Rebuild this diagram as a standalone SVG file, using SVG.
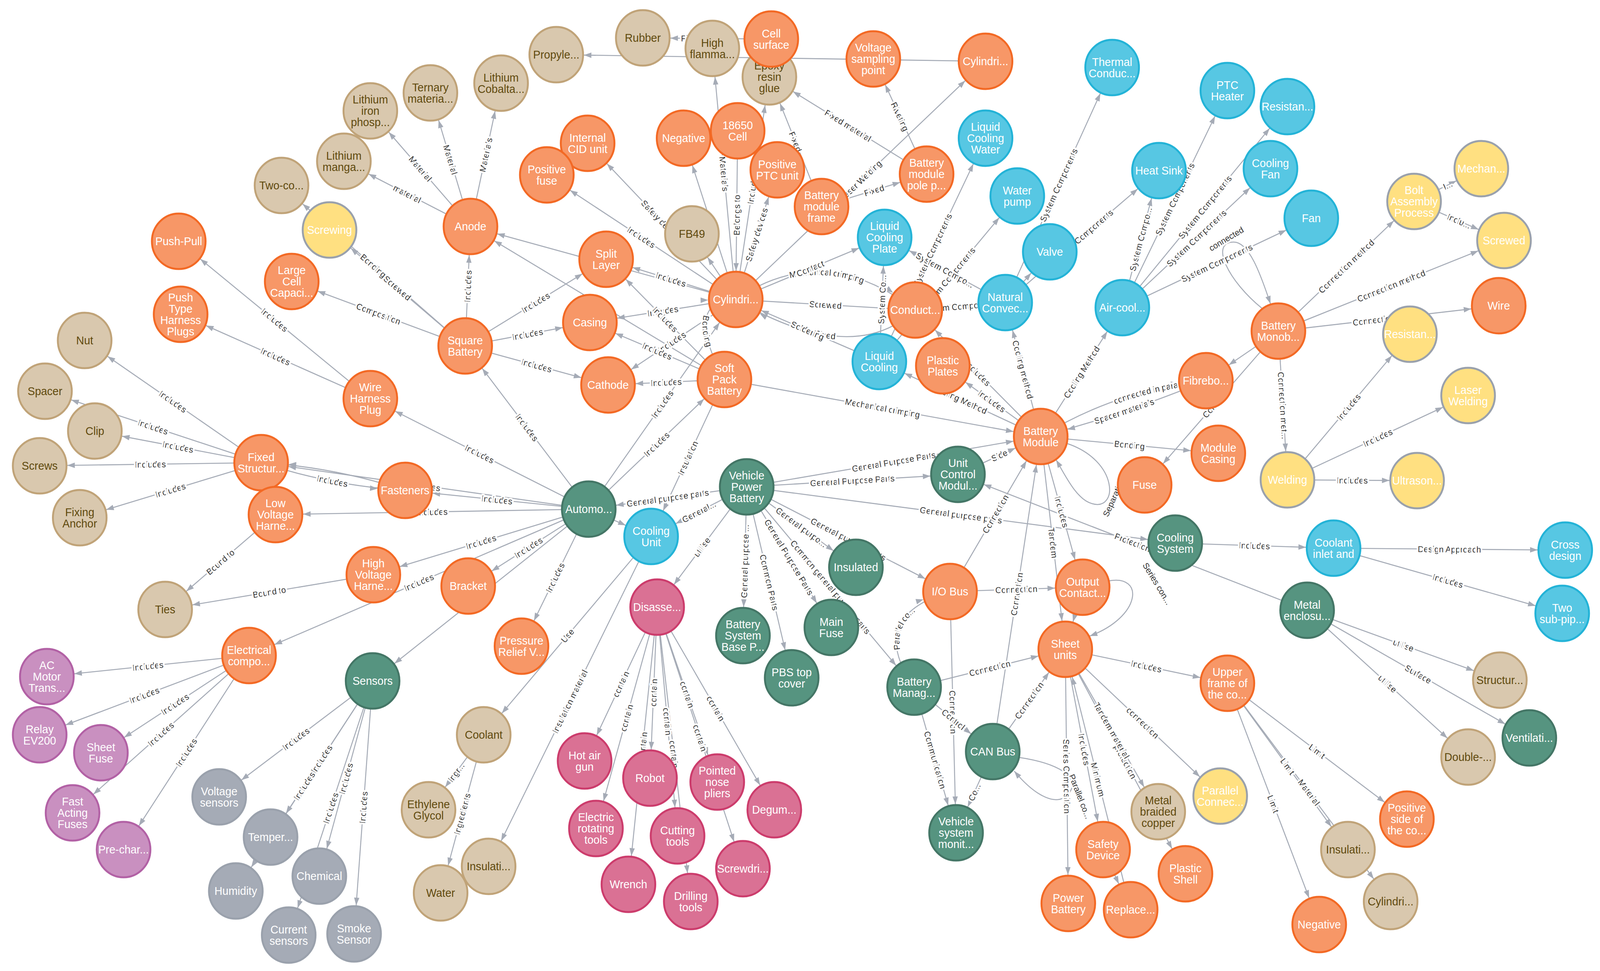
<svg xmlns="http://www.w3.org/2000/svg" width="4234" height="2487" viewBox="0 0 4234 2487">
<style>
.e{fill:none;stroke:#A5ABB6;stroke-width:2.6}
.l{font-family:"Liberation Sans",Arial,sans-serif;font-size:22px;fill:#333;dominant-baseline:central;text-anchor:middle;paint-order:stroke;stroke:#fff;stroke-width:9px;stroke-linejoin:round}
.n circle{stroke-width:5}
.o circle{fill:#F79767;stroke:#F36924}
.b circle{fill:#57C7E3;stroke:#23B3D7}
.g circle{fill:#569480;stroke:#447666}
.k circle{fill:#D9C8AE;stroke:#C0A378}
.p circle{fill:#DA7194;stroke:#CC3C6C}
.u circle{fill:#C990C0;stroke:#B261A5}
.y circle{fill:#FFE081;stroke:#9AA1AC}
.s circle{fill:#A5ABB6;stroke:#9AA1AC}
.n text{font-family:"Liberation Sans",Arial,sans-serif;font-size:29px;fill:#fff;text-anchor:middle}
.k text{fill:#604A0E}
</style>
<defs>
<marker id="a" viewBox="0 0 100 20" refX="100" refY="10" markerWidth="100" markerHeight="20" markerUnits="userSpaceOnUse" orient="auto-start-reverse"><path d="M7 3L27 10L7 17z" fill="#A5ABB6"/></marker>
<marker id="a2" viewBox="0 0 20 20" refX="20" refY="10" markerWidth="20" markerHeight="20" markerUnits="userSpaceOnUse" orient="auto-start-reverse"><path d="M0 3L20 10L0 17z" fill="#A5ABB6"/></marker>
</defs>
<rect width="4234" height="2487" fill="#fff"/>
<g id="diagram" transform="scale(0.9674 1)">
<g id="connectors">
<path id="e1" class="e" d="M1701 97L2041 100" marker-start="url(#a)"/>
<path id="e2" class="e" d="M1472 140L2608 157" marker-start="url(#a)"/>
<path id="e4" class="e" d="M1885 124L1947 767" marker-start="url(#a)"/>
<path id="e5" class="e" d="M1947 767L1952 335" marker-start="url(#a)"/>
<path id="e6" class="e" d="M1947 767L2036 197" marker-end="url(#a)"/>
<path id="e7" class="e" d="M1947 767L2057 435" marker-end="url(#a)"/>
<path id="e8" class="e" d="M1809 354L1947 767" marker-start="url(#a)"/>
<path id="e9" class="e" d="M1831 599L1947 767" marker-start="url(#a)"/>
<path id="e10" class="e" d="M1555 367L1947 767" marker-start="url(#a)"/>
<path id="e11" class="e" d="M1447 448L1947 767" marker-start="url(#a)"/>
<path id="e12" class="e" d="M1604 664L1947 767" marker-start="url(#a)"/>
<path id="e13" class="e" d="M1561 826L1947 767" marker-start="url(#a)"/>
<path id="e14" class="e" d="M1609 986L1947 767" marker-start="url(#a)"/>
<path id="e15" class="e" d="M1245 580L1947 767" marker-start="url(#a)"/>
<path id="e16" class="e" d="M1245 580L1917 972" marker-start="url(#a)"/>
<path id="e17" class="e" d="M1561 826L1917 972" marker-start="url(#a)"/>
<path id="e18" class="e" d="M1604 664L1917 972" marker-start="url(#a)"/>
<path id="e19" class="e" d="M1609 986L1917 972" marker-start="url(#a)"/>
<path id="e20" class="e" d="M1947 767Q1804 770 1917 972" marker-start="url(#a)"/>
<path id="e21" class="e" d="M1947 767L2422 794" marker-end="url(#a)"/>
<path id="e22" class="e" d="M1947 767Q2180 613 2422 794" marker-end="url(#a)"/>
<path id="e23" class="e" d="M1947 767Q2257 943 2422 794" marker-start="url(#a)"/>
<path id="e24" class="e" d="M1947 767L2327 926" marker-start="url(#a)"/>
<path id="e25" class="e" d="M1947 767L2341 608" marker-end="url(#a)"/>
<path id="e26" class="e" d="M1947 767L2608 157" marker-end="url(#a)"/>
<path id="e28" class="e" d="M2036 197L2174 529" marker-start="url(#a)"/>
<path id="e29" class="e" d="M2174 529L2452 446" marker-end="url(#a)"/>
<path id="e30" class="e" d="M2036 197L2452 446" marker-start="url(#a)"/>
<path id="e31" class="e" d="M2311 151L2452 446" marker-start="url(#a)"/>
<path id="e32" class="e" d="M980 284L1245 580" marker-start="url(#a)"/>
<path id="e33" class="e" d="M1139 238L1245 580" marker-start="url(#a)"/>
<path id="e34" class="e" d="M1245 580L1326 213" marker-end="url(#a)"/>
<path id="e35" class="e" d="M910 413L1245 580" marker-start="url(#a)"/>
<path id="e36" class="e" d="M1231 886L1245 580" marker-end="url(#a)"/>
<path id="e37" class="e" d="M872 589L1231 886" marker-start="url(#a)"/>
<path id="e38" class="e" d="M745 475L1231 886" marker-start="url(#a)"/>
<path id="e39" class="e" d="M772 721L1231 886" marker-start="url(#a)"/>
<path id="e40" class="e" d="M1231 886L1604 664" marker-end="url(#a)"/>
<path id="e41" class="e" d="M1231 886L1561 826" marker-end="url(#a)"/>
<path id="e42" class="e" d="M1231 886L1609 986" marker-end="url(#a)"/>
<path id="e43" class="e" d="M1231 886L1558 1304" marker-start="url(#a)"/>
<path id="e44" class="e" d="M473 618L980 1021" marker-start="url(#a)"/>
<path id="e45" class="e" d="M478 805L980 1021" marker-start="url(#a)"/>
<path id="e46" class="e" d="M980 1021L1558 1304" marker-start="url(#a)"/>
<path id="e47" class="e" d="M224 872L691 1185" marker-start="url(#a)"/>
<path id="e48" class="e" d="M119 1002L691 1185" marker-start="url(#a)"/>
<path id="e49" class="e" d="M251 1104L691 1185" marker-start="url(#a)"/>
<path id="e50" class="e" d="M105 1193L691 1185" marker-start="url(#a)"/>
<path id="e51" class="e" d="M211 1326L691 1185" marker-start="url(#a)"/>
<path id="e52" class="e" d="M691 1185Q877 1244 1072 1256" marker-end="url(#a)"/>
<path id="e53" class="e" d="M691 1185Q885 1196 1072 1256" marker-start="url(#a)"/>
<path id="e54" class="e" d="M691 1185L1558 1304" marker-start="url(#a)"/>
<path id="e55" class="e" d="M1072 1256L1558 1304" marker-start="url(#a)"/>
<path id="e56" class="e" d="M729 1318L1558 1304" marker-start="url(#a)"/>
<path id="e57" class="e" d="M437 1561L729 1318" marker-start="url(#a)"/>
<path id="e58" class="e" d="M437 1561L988 1472" marker-start="url(#a)"/>
<path id="e59" class="e" d="M988 1472L1558 1304" marker-start="url(#a)"/>
<path id="e60" class="e" d="M659 1679L1558 1304" marker-start="url(#a)"/>
<path id="e61" class="e" d="M1239 1501L1558 1304" marker-start="url(#a)"/>
<path id="e62" class="e" d="M986 1744L1558 1304" marker-start="url(#a)"/>
<path id="e63" class="e" d="M1380 1655L1558 1304" marker-start="url(#a)"/>
<path id="e64" class="e" d="M1558 1304L1723 1374" marker-end="url(#a)"/>
<path id="e65" class="e" d="M1558 1304L1976 1247" marker-start="url(#a)"/>
<path id="e66" class="e" d="M1723 1374L1976 1247" marker-start="url(#a)"/>
<path id="e67" class="e" d="M1723 1374L1917 972" marker-start="url(#a)"/>
<path id="e68" class="e" d="M1558 1304L1947 767" marker-end="url(#a)"/>
<path id="e69" class="e" d="M1558 1304L1917 972" marker-end="url(#a)"/>
<path id="e70" class="e" d="M1917 972L2754 1118" marker-end="url(#a)"/>
<path id="e71" class="e" d="M2327 926L2341 608" marker-end="url(#a)"/>
<path id="e72" class="e" d="M2327 926L2608 354" marker-end="url(#a)"/>
<path id="e73" class="e" d="M2327 926L2692 502" marker-end="url(#a)"/>
<path id="e74" class="e" d="M2341 608L2660 775" marker-start="url(#a)"/>
<path id="e75" class="e" d="M2422 794L2660 775" marker-start="url(#a)"/>
<path id="e76" class="e" d="M2660 775L2943 173" marker-end="url(#a)"/>
<path id="e77" class="e" d="M2660 775L3067 437" marker-end="url(#a)"/>
<path id="e78" class="e" d="M2660 775L2778 645" marker-end="url(#a)"/>
<path id="e79" class="e" d="M2970 788L3067 437" marker-end="url(#a)"/>
<path id="e80" class="e" d="M2970 788L3248 232" marker-end="url(#a)"/>
<path id="e81" class="e" d="M2970 788L3407 273" marker-end="url(#a)"/>
<path id="e82" class="e" d="M2970 788L3362 432" marker-end="url(#a)"/>
<path id="e83" class="e" d="M2970 788L3470 559" marker-end="url(#a)"/>
<path id="e84" class="e" d="M3340 790C3250 720 3200 620 3265 620C3305 620 3335 700 3362 778" marker-end="url(#a2)"/>
<path id="e85" class="e" d="M2754 1118L2970 788" marker-end="url(#a)"/>
<path id="e86" class="e" d="M2660 775L2754 1118" marker-start="url(#a)"/>
<path id="e87" class="e" d="M2327 926L2754 1118" marker-start="url(#a)"/>
<path id="e88" class="e" d="M2495 937L2754 1118" marker-start="url(#a)"/>
<path id="e89" class="e" d="M2422 794L2754 1118" marker-start="url(#a)"/>
<path id="e90" class="e" d="M2754 1118Q2956 998 3191 975" marker-end="url(#a)"/>
<path id="e91" class="e" d="M2754 1118Q2977 1061 3191 975" marker-start="url(#a)"/>
<path id="e92" class="e" d="M2754 1118L3224 1161" marker-end="url(#a)"/>
<path id="e93" class="e" d="M2824 1136C2960 1180 2960 1310 2890 1290C2850 1280 2820 1220 2795 1178" marker-end="url(#a2)"/>
<path id="e94" class="e" d="M2535 1215L2754 1118" marker-end="url(#a)"/>
<path id="e95" class="e" d="M1976 1247L2535 1215" marker-end="url(#a)"/>
<path id="e96" class="e" d="M1976 1247L2754 1118" marker-end="url(#a)"/>
<path id="e97" class="e" d="M1976 1247L3110 1391" marker-end="url(#a)"/>
<path id="e98" class="e" d="M2535 1215L3459 1563" marker-start="url(#a)"/>
<path id="e99" class="e" d="M2514 1515L2754 1118" marker-end="url(#a)"/>
<path id="e100" class="e" d="M2627 1925L2754 1118" marker-end="url(#a)"/>
<path id="e101" class="e" d="M2754 1118L2865 1504" marker-end="url(#a)"/>
<path id="e102" class="e" d="M2754 1118L2819 1663" marker-end="url(#a)"/>
<path id="e103" class="e" d="M2514 1515L2865 1504" marker-end="url(#a)"/>
<path id="e104" class="e" d="M2933 1488C3030 1470 3020 1580 2884 1629" marker-end="url(#a2)"/>
<path id="e105" class="e" d="M2819 1663L2865 1504" marker-start="url(#a)"/>
<path id="e106" class="e" d="M1976 1247L2265 1453" marker-end="url(#a)"/>
<path id="e107" class="e" d="M1976 1247L2514 1515" marker-end="url(#a)"/>
<path id="e108" class="e" d="M1966 1628L1976 1247" marker-start="url(#a)"/>
<path id="e109" class="e" d="M1976 1247L2095 1736" marker-end="url(#a)"/>
<path id="e110" class="e" d="M1976 1247L2200 1607" marker-end="url(#a)"/>
<path id="e111" class="e" d="M1976 1247L2419 1760" marker-end="url(#a)"/>
<path id="e112" class="e" d="M2419 1760Q2290 1580 2514 1515" marker-end="url(#a)"/>
<path id="e114" class="e" d="M2419 1760L2819 1663" marker-end="url(#a)"/>
<path id="e115" class="e" d="M2514 1515L2530 2133" marker-end="url(#a)"/>
<path id="e116" class="e" d="M2419 1760L2627 1925" marker-end="url(#a)"/>
<path id="e117" class="e" d="M2419 1760L2530 2133" marker-end="url(#a)"/>
<path id="e118" class="e" d="M2530 2133L2627 1925" marker-start="url(#a)"/>
<path id="e119" class="e" d="M2627 1925L2819 1663" marker-end="url(#a)"/>
<path id="e120" class="e" d="M2697 1940C2800 1955 2860 1990 2830 2030C2800 2070 2740 2040 2684 1975" marker-end="url(#a2)"/>
<path id="e121" class="e" d="M2819 1663L2827 2314" marker-end="url(#a)"/>
<path id="e122" class="e" d="M2819 1663L2919 2176" marker-end="url(#a)"/>
<path id="e123" class="e" d="M2819 1663L2992 2330" marker-start="url(#a)"/>
<path id="e124" class="e" d="M2919 2176L2992 2330" marker-end="url(#a)"/>
<path id="e125" class="e" d="M2819 1663L3137 2238" marker-end="url(#a)"/>
<path id="e126" class="e" d="M2819 1663L3065 2079" marker-end="url(#a)"/>
<path id="e128" class="e" d="M2819 1663L3229 2039" marker-end="url(#a)"/>
<path id="e129" class="e" d="M2819 1663L3248 1750" marker-end="url(#a)"/>
<path id="e130" class="e" d="M3248 1750L3723 2098" marker-end="url(#a)"/>
<path id="e131" class="e" d="M3248 1750L3567 2176" marker-end="url(#a)"/>
<path id="e132" class="e" d="M3248 1750L3680 2309" marker-end="url(#a)"/>
<path id="e133" class="e" d="M3248 1750L3491 2368" marker-end="url(#a)"/>
<path id="e134" class="e" d="M3459 1563L3969 1742" marker-end="url(#a)"/>
<path id="e135" class="e" d="M3459 1563L4047 1890" marker-end="url(#a)"/>
<path id="e136" class="e" d="M3459 1563L3885 1939" marker-end="url(#a)"/>
<path id="e137" class="e" d="M3110 1391L3529 1404" marker-end="url(#a)"/>
<path id="e138" class="e" d="M3529 1404L4142 1409" marker-end="url(#a)"/>
<path id="e139" class="e" d="M3529 1404L4134 1571" marker-end="url(#a)"/>
<path id="e140" class="e" d="M3383 848L3742 516" marker-end="url(#a)"/>
<path id="e141" class="e" d="M3383 848L3980 616" marker-end="url(#a)"/>
<path id="e142" class="e" d="M3383 848L3966 783" marker-end="url(#a)"/>
<path id="e143" class="e" d="M3383 848L3407 1229" marker-end="url(#a)"/>
<path id="e144" class="e" d="M3029 1242L3383 848" marker-start="url(#a)"/>
<path id="e145" class="e" d="M3191 975L3383 848" marker-start="url(#a)"/>
<path id="e146" class="e" d="M3407 1229L3731 856" marker-end="url(#a)"/>
<path id="e147" class="e" d="M3407 1229L3885 1013" marker-end="url(#a)"/>
<path id="e148" class="e" d="M3407 1229L3750 1231" marker-end="url(#a)"/>
<path id="e149" class="e" d="M3742 516L3920 432" marker-end="url(#a)"/>
<path id="e150" class="e" d="M3742 516L3980 616" marker-end="url(#a)"/>
<path id="e151" class="e" d="M1739 1555L1976 1247" marker-start="url(#a)"/>
<path id="e152" class="e" d="M1547 1949L1739 1555" marker-start="url(#a)"/>
<path id="e153" class="e" d="M1577 2122L1739 1555" marker-start="url(#a)"/>
<path id="e154" class="e" d="M1720 1993L1739 1555" marker-start="url(#a)"/>
<path id="e155" class="e" d="M1663 2265L1739 1555" marker-start="url(#a)"/>
<path id="e156" class="e" d="M1739 1555L1793 2141" marker-end="url(#a)"/>
<path id="e157" class="e" d="M1739 1555L1828 2309" marker-end="url(#a)"/>
<path id="e158" class="e" d="M1739 1555L1898 2003" marker-end="url(#a)"/>
<path id="e159" class="e" d="M1739 1555L1966 2225" marker-end="url(#a)"/>
<path id="e160" class="e" d="M1739 1555L2049 2074" marker-end="url(#a)"/>
<path id="e161" class="e" d="M1280 1882L1723 1374" marker-start="url(#a)"/>
<path id="e162" class="e" d="M1293 2219L1723 1374" marker-start="url(#a)"/>
<path id="e163" class="e" d="M1134 2074L1280 1882" marker-start="url(#a)"/>
<path id="e164" class="e" d="M1166 2287L1280 1882" marker-start="url(#a)"/>
<path id="e165" class="e" d="M580 2041L986 1744" marker-start="url(#a)"/>
<path id="e166" class="e" d="M716 2144L986 1744" marker-start="url(#a)"/>
<path id="e167" class="e" d="M624 2282L986 1744" marker-start="url(#a)"/>
<path id="e168" class="e" d="M845 2244L986 1744" marker-start="url(#a)"/>
<path id="e169" class="e" d="M764 2395L986 1744" marker-start="url(#a)"/>
<path id="e170" class="e" d="M937 2392L986 1744" marker-start="url(#a)"/>
<path id="e171" class="e" d="M124 1733L659 1679" marker-start="url(#a)"/>
<path id="e172" class="e" d="M105 1882L659 1679" marker-start="url(#a)"/>
<path id="e173" class="e" d="M267 1928L659 1679" marker-start="url(#a)"/>
<path id="e174" class="e" d="M192 2082L659 1679" marker-start="url(#a)"/>
<path id="e175" class="e" d="M327 2176L659 1679" marker-start="url(#a)"/>

<text class="l"><textPath href="#e1" startOffset="50%">Fixed material</textPath></text>
<text class="l"><textPath href="#e4" startOffset="50%">Materials</textPath></text>
<text class="l"><textPath href="#e5" startOffset="50%">Belongs to</textPath></text>
<text class="l"><textPath href="#e6" startOffset="50%">Includes</textPath></text>
<text class="l"><textPath href="#e7" startOffset="50%">Safety devices</textPath></text>
<text class="l"><textPath href="#e10" startOffset="50%">Safety devices</textPath></text>
<text class="l"><textPath href="#e11" startOffset="50%">Includes</textPath></text>
<text class="l"><textPath href="#e12" startOffset="50%">Includes</textPath></text>
<text class="l"><textPath href="#e13" startOffset="50%">Includes</textPath></text>
<text class="l"><textPath href="#e14" startOffset="50%">Includes</textPath></text>
<text class="l"><textPath href="#e17" startOffset="50%">Includes</textPath></text>
<text class="l"><textPath href="#e18" startOffset="50%">Includes</textPath></text>
<text class="l"><textPath href="#e19" startOffset="50%">Includes</textPath></text>
<text class="l"><textPath href="#e20" startOffset="50%">Bonding</textPath></text>
<text class="l"><textPath href="#e21" startOffset="50%">Screwed</textPath></text>
<text class="l"><textPath href="#e22" startOffset="50%">Mechanical crimping</textPath></text>
<text class="l"><textPath href="#e23" startOffset="50%">Fixed</textPath></text>
<text class="l"><textPath href="#e24" startOffset="50%">Soldering</textPath></text>
<text class="l"><textPath href="#e25" startOffset="50%">Contact</textPath></text>
<text class="l"><textPath href="#e26" startOffset="50%">Laser Welding</textPath></text>
<text class="l"><textPath href="#e28" startOffset="50%">Fixed</textPath></text>
<text class="l"><textPath href="#e29" startOffset="50%">Fixed</textPath></text>
<text class="l"><textPath href="#e30" startOffset="50%">Fixed material</textPath></text>
<text class="l"><textPath href="#e31" startOffset="50%">Riveting</textPath></text>
<text class="l"><textPath href="#e32" startOffset="50%">Material</textPath></text>
<text class="l"><textPath href="#e33" startOffset="50%">Material</textPath></text>
<text class="l"><textPath href="#e34" startOffset="50%">Materials</textPath></text>
<text class="l"><textPath href="#e35" startOffset="50%">material</textPath></text>
<text class="l"><textPath href="#e36" startOffset="50%">Includes</textPath></text>
<text class="l"><textPath href="#e37" startOffset="50%">Screwed</textPath></text>
<text class="l"><textPath href="#e38" startOffset="50%">Bonding</textPath></text>
<text class="l"><textPath href="#e39" startOffset="50%">Composition</textPath></text>
<text class="l"><textPath href="#e40" startOffset="50%">Includes</textPath></text>
<text class="l"><textPath href="#e41" startOffset="50%">Includes</textPath></text>
<text class="l"><textPath href="#e42" startOffset="50%">Includes</textPath></text>
<text class="l"><textPath href="#e43" startOffset="50%">Includes</textPath></text>
<text class="l"><textPath href="#e44" startOffset="50%">Includes</textPath></text>
<text class="l"><textPath href="#e45" startOffset="50%">Includes</textPath></text>
<text class="l"><textPath href="#e46" startOffset="50%">Includes</textPath></text>
<text class="l"><textPath href="#e47" startOffset="50%">Includes</textPath></text>
<text class="l"><textPath href="#e48" startOffset="50%">Includes</textPath></text>
<text class="l"><textPath href="#e49" startOffset="50%">Includes</textPath></text>
<text class="l"><textPath href="#e50" startOffset="50%">Includes</textPath></text>
<text class="l"><textPath href="#e51" startOffset="50%">Includes</textPath></text>
<text class="l"><textPath href="#e52" startOffset="50%">Includes</textPath></text>
<text class="l"><textPath href="#e54" startOffset="50%">Includes</textPath></text>
<text class="l"><textPath href="#e55" startOffset="50%">Includes</textPath></text>
<text class="l"><textPath href="#e56" startOffset="50%">Includes</textPath></text>
<text class="l"><textPath href="#e57" startOffset="50%">Bound to</textPath></text>
<text class="l"><textPath href="#e58" startOffset="50%">Bound to</textPath></text>
<text class="l"><textPath href="#e59" startOffset="50%">Includes</textPath></text>
<text class="l"><textPath href="#e60" startOffset="50%">Includes</textPath></text>
<text class="l"><textPath href="#e61" startOffset="50%">Includes</textPath></text>
<text class="l"><textPath href="#e62" startOffset="50%">Includes</textPath></text>
<text class="l"><textPath href="#e63" startOffset="50%">Includes</textPath></text>
<text class="l"><textPath href="#e65" startOffset="50%">General purpose parts</textPath></text>
<text class="l"><textPath href="#e66" startOffset="50%">General...</textPath></text>
<text class="l"><textPath href="#e67" startOffset="50%">Insulation</textPath></text>
<text class="l"><textPath href="#e68" startOffset="50%">Includes</textPath></text>
<text class="l"><textPath href="#e69" startOffset="50%">Includes</textPath></text>
<text class="l"><textPath href="#e70" startOffset="50%">Mechanical crimping</textPath></text>
<text class="l"><textPath href="#e71" startOffset="50%">System Co...</textPath></text>
<text class="l"><textPath href="#e72" startOffset="50%">System Components</textPath></text>
<text class="l"><textPath href="#e73" startOffset="50%">System Components</textPath></text>
<text class="l"><textPath href="#e74" startOffset="50%">System Compo...</textPath></text>
<text class="l"><textPath href="#e75" startOffset="50%">System Components</textPath></text>
<text class="l"><textPath href="#e76" startOffset="50%">System Components</textPath></text>
<text class="l"><textPath href="#e77" startOffset="50%">System Components</textPath></text>
<text class="l"><textPath href="#e79" startOffset="50%">System Compo...</textPath></text>
<text class="l"><textPath href="#e80" startOffset="50%">System Components</textPath></text>
<text class="l"><textPath href="#e81" startOffset="50%">System Components</textPath></text>
<text class="l"><textPath href="#e82" startOffset="50%">System Components</textPath></text>
<text class="l"><textPath href="#e83" startOffset="50%">System Components</textPath></text>
<text class="l" x="3245" y="612" transform="rotate(-30 3245 612)">connected</text>
<text class="l"><textPath href="#e85" startOffset="50%">Cooling Method</textPath></text>
<text class="l"><textPath href="#e86" startOffset="50%">Cooling method</textPath></text>
<text class="l"><textPath href="#e87" startOffset="50%">Cooling Method</textPath></text>
<text class="l"><textPath href="#e88" startOffset="50%">Includes</textPath></text>
<text class="l"><textPath href="#e89" startOffset="50%">Includes</textPath></text>
<text class="l"><textPath href="#e90" startOffset="68%">connected in parallel</textPath></text>
<text class="l"><textPath href="#e91" startOffset="50%">Spacer materials</textPath></text>
<text class="l"><textPath href="#e92" startOffset="50%">Bonding</textPath></text>
<text class="l" x="2925" y="1322" style="text-anchor:start" transform="rotate(-65 2925 1322)">Separation</text>
<text class="l"><textPath href="#e94" startOffset="50%">Side</textPath></text>
<text class="l"><textPath href="#e95" startOffset="50%">General Purpose Parts</textPath></text>
<text class="l"><textPath href="#e96" startOffset="50%">General Purpose Parts</textPath></text>
<text class="l"><textPath href="#e97" startOffset="50%">General purpose parts</textPath></text>
<text class="l"><textPath href="#e98" startOffset="50%">Protection</textPath></text>
<text class="l"><textPath href="#e99" startOffset="50%">Connection</textPath></text>
<text class="l"><textPath href="#e100" startOffset="50%">Connection</textPath></text>
<text class="l"><textPath href="#e101" startOffset="50%">Includes</textPath></text>
<text class="l"><textPath href="#e102" startOffset="50%">Tandem</textPath></text>
<text class="l"><textPath href="#e103" startOffset="50%">Connection</textPath></text>
<text class="l" x="3062" y="1495" transform="rotate(58 3062 1495)">Series con...</text>
<text class="l"><textPath href="#e106" startOffset="50%">General purpo...</textPath></text>
<text class="l"><textPath href="#e107" startOffset="50%">General purpose parts</textPath></text>
<text class="l"><textPath href="#e108" startOffset="50%">General purpose ...</textPath></text>
<text class="l"><textPath href="#e109" startOffset="50%">Common Parts</textPath></text>
<text class="l"><textPath href="#e110" startOffset="50%">General Purpose Parts</textPath></text>
<text class="l"><textPath href="#e111" startOffset="50%">Common general purpose parts</textPath></text>
<text class="l"><textPath href="#e112" startOffset="50%">Parallel co...</textPath></text>
<text class="l"><textPath href="#e114" startOffset="50%">Connection</textPath></text>
<text class="l"><textPath href="#e115" startOffset="50%">Connection</textPath></text>
<text class="l"><textPath href="#e116" startOffset="50%">Control</textPath></text>
<text class="l"><textPath href="#e117" startOffset="50%">Communication</textPath></text>
<text class="l"><textPath href="#e118" startOffset="50%">Co...</textPath></text>
<text class="l"><textPath href="#e119" startOffset="50%">Connection</textPath></text>
<text class="l" x="2858" y="2040" transform="rotate(68 2858 2040)">Parallel co...</text>
<text class="l"><textPath href="#e121" startOffset="50%">Series Composition</textPath></text>
<text class="l"><textPath href="#e122" startOffset="50%">Includes</textPath></text>
<text class="l"><textPath href="#e123" startOffset="50%">Minimum</textPath></text>
<text class="l"><textPath href="#e125" startOffset="50%">protection</textPath></text>
<text class="l"><textPath href="#e126" startOffset="50%">Tandem material</textPath></text>
<text class="l"><textPath href="#e128" startOffset="50%">connection</textPath></text>
<text class="l"><textPath href="#e129" startOffset="50%">Includes</textPath></text>
<text class="l"><textPath href="#e130" startOffset="50%">Limit</textPath></text>
<text class="l"><textPath href="#e131" startOffset="50%">Limit</textPath></text>
<text class="l"><textPath href="#e132" startOffset="50%">Material</textPath></text>
<text class="l"><textPath href="#e133" startOffset="50%">Limit</textPath></text>
<text class="l"><textPath href="#e134" startOffset="50%">utilise</textPath></text>
<text class="l"><textPath href="#e135" startOffset="50%">Surface</textPath></text>
<text class="l"><textPath href="#e136" startOffset="50%">utilise</textPath></text>
<text class="l"><textPath href="#e137" startOffset="50%">Includes</textPath></text>
<text class="l"><textPath href="#e138" startOffset="50%">Design Approach</textPath></text>
<text class="l"><textPath href="#e139" startOffset="50%">Includes</textPath></text>
<text class="l"><textPath href="#e140" startOffset="50%">Connection method</textPath></text>
<text class="l"><textPath href="#e141" startOffset="50%">Connection method</textPath></text>
<text class="l"><textPath href="#e142" startOffset="50%">Connection method</textPath></text>
<text class="l"><textPath href="#e143" startOffset="50%">Connection met...</textPath></text>
<text class="l"><textPath href="#e144" startOffset="50%">Con...</textPath></text>
<text class="l"><textPath href="#e146" startOffset="50%">Includes</textPath></text>
<text class="l"><textPath href="#e147" startOffset="50%">Includes</textPath></text>
<text class="l"><textPath href="#e148" startOffset="50%">Includes</textPath></text>
<text class="l"><textPath href="#e149" startOffset="50%">I...</textPath></text>
<text class="l"><textPath href="#e150" startOffset="50%">Inclu...</textPath></text>
<text class="l"><textPath href="#e151" startOffset="50%">utilise</textPath></text>
<text class="l"><textPath href="#e152" startOffset="50%">contain</textPath></text>
<text class="l"><textPath href="#e153" startOffset="50%">contain</textPath></text>
<text class="l"><textPath href="#e154" startOffset="50%">contain</textPath></text>
<text class="l"><textPath href="#e155" startOffset="50%">contain</textPath></text>
<text class="l"><textPath href="#e156" startOffset="50%">contain</textPath></text>
<text class="l"><textPath href="#e157" startOffset="50%">contain</textPath></text>
<text class="l"><textPath href="#e158" startOffset="50%">contain</textPath></text>
<text class="l"><textPath href="#e159" startOffset="50%">contain</textPath></text>
<text class="l"><textPath href="#e160" startOffset="50%">contain</textPath></text>
<text class="l"><textPath href="#e161" startOffset="50%">Use</textPath></text>
<text class="l"><textPath href="#e162" startOffset="50%">Insulation material</textPath></text>
<text class="l"><textPath href="#e163" startOffset="50%">Ingr...</textPath></text>
<text class="l"><textPath href="#e164" startOffset="50%">Ingredients</textPath></text>
<text class="l"><textPath href="#e165" startOffset="50%">Includes</textPath></text>
<text class="l"><textPath href="#e166" startOffset="50%">Includes</textPath></text>
<text class="l"><textPath href="#e167" startOffset="50%">Includes</textPath></text>
<text class="l"><textPath href="#e168" startOffset="50%">Includes</textPath></text>
<text class="l"><textPath href="#e169" startOffset="50%">Includes</textPath></text>
<text class="l"><textPath href="#e170" startOffset="50%">Includes</textPath></text>
<text class="l"><textPath href="#e171" startOffset="50%">Includes</textPath></text>
<text class="l"><textPath href="#e172" startOffset="50%">Includes</textPath></text>
<text class="l"><textPath href="#e173" startOffset="50%">Includes</textPath></text>
<text class="l"><textPath href="#e174" startOffset="50%">Includes</textPath></text>
<text class="l"><textPath href="#e175" startOffset="50%">Includes</textPath></text>
</g>
<g id="nodes">
<g id="n-rubber" class="n k"><circle cx="1701" cy="97" r="71"/><text x="1701" y="107">Rubber</text></g>
<g id="n-propyle" class="n k"><circle cx="1472" cy="140" r="71"/><text x="1472" y="150">Propyle...</text></g>
<g id="n-highfl" class="n k"><circle cx="1885" cy="124" r="71"/><text x="1885" y="120">High<tspan x="1885" dy="29">flamma...</tspan></text></g>
<g id="n-epoxy" class="n k"><circle cx="2036" cy="197" r="71"/><text x="2036" y="178">Epoxy<tspan x="2036" dy="29">resin</tspan><tspan x="2036" dy="29">glue</tspan></text></g>
<g id="n-cellsurf" class="n o"><circle cx="2041" cy="100" r="71"/><text x="2041" y="96">Cell<tspan x="2041" dy="29">surface</tspan></text></g>
<g id="n-vsamp" class="n o"><circle cx="2311" cy="151" r="71"/><text x="2311" y="132">Voltage<tspan x="2311" dy="29">sampling</tspan><tspan x="2311" dy="29">point</tspan></text></g>
<g id="n-cyltr" class="n o"><circle cx="2608" cy="157" r="71"/><text x="2608" y="167">Cylindri...</text></g>
<g id="n-thermal" class="n b"><circle cx="2943" cy="173" r="71"/><text x="2943" y="169">Thermal<tspan x="2943" dy="29">Conduc...</tspan></text></g>
<g id="n-ptc" class="n b"><circle cx="3248" cy="232" r="71"/><text x="3248" y="228">PTC<tspan x="3248" dy="29">Heater</tspan></text></g>
<g id="n-resblue" class="n b"><circle cx="3407" cy="273" r="71"/><text x="3407" y="283">Resistan...</text></g>
<g id="n-lcw" class="n b"><circle cx="2608" cy="354" r="71"/><text x="2608" y="335">Liquid<tspan x="2608" dy="29">Cooling</tspan><tspan x="2608" dy="29">Water</tspan></text></g>
<g id="n-pole" class="n o"><circle cx="2452" cy="446" r="71"/><text x="2452" y="427">Battery<tspan x="2452" dy="29">module</tspan><tspan x="2452" dy="29">pole p...</tspan></text></g>
<g id="n-wpump" class="n b"><circle cx="2692" cy="502" r="71"/><text x="2692" y="498">Water<tspan x="2692" dy="29">pump</tspan></text></g>
<g id="n-heatsink" class="n b"><circle cx="3067" cy="437" r="71"/><text x="3067" y="447">Heat Sink</text></g>
<g id="n-coolfan" class="n b"><circle cx="3362" cy="432" r="71"/><text x="3362" y="428">Cooling<tspan x="3362" dy="29">Fan</tspan></text></g>
<g id="n-fan" class="n b"><circle cx="3470" cy="559" r="71"/><text x="3470" y="569">Fan</text></g>
<g id="n-mechan" class="n y"><circle cx="3920" cy="432" r="71"/><text x="3920" y="442">Mechan...</text></g>
<g id="n-bolt" class="n y"><circle cx="3742" cy="516" r="71"/><text x="3742" y="497">Bolt<tspan x="3742" dy="29">Assembly</tspan><tspan x="3742" dy="29">Process</tspan></text></g>
<g id="n-screwed" class="n y"><circle cx="3980" cy="616" r="71"/><text x="3980" y="626">Screwed</text></g>
<g id="n-lfp" class="n k"><circle cx="980" cy="284" r="71"/><text x="980" y="265">Lithium<tspan x="980" dy="29">iron</tspan><tspan x="980" dy="29">phosp...</tspan></text></g>
<g id="n-ternary" class="n k"><circle cx="1139" cy="238" r="71"/><text x="1139" y="234">Ternary<tspan x="1139" dy="29">materia...</tspan></text></g>
<g id="n-lco" class="n k"><circle cx="1326" cy="213" r="71"/><text x="1326" y="209">Lithium<tspan x="1326" dy="29">Cobalta...</tspan></text></g>
<g id="n-lmo" class="n k"><circle cx="910" cy="413" r="71"/><text x="910" y="409">Lithium<tspan x="910" dy="29">manga...</tspan></text></g>
<g id="n-twoco" class="n k"><circle cx="745" cy="475" r="71"/><text x="745" y="485">Two-co...</text></g>
<g id="n-screwing" class="n y"><circle cx="872" cy="589" r="71"/><text x="872" y="599">Screwing</text></g>
<g id="n-cid" class="n o"><circle cx="1555" cy="367" r="71"/><text x="1555" y="363">Internal<tspan x="1555" dy="29">CID unit</tspan></text></g>
<g id="n-posfuse" class="n o"><circle cx="1447" cy="448" r="71"/><text x="1447" y="444">Positive<tspan x="1447" dy="29">fuse</tspan></text></g>
<g id="n-negtop" class="n o"><circle cx="1809" cy="354" r="71"/><text x="1809" y="364">Negative</text></g>
<g id="n-c18650" class="n o"><circle cx="1952" cy="335" r="71"/><text x="1952" y="331">18650<tspan x="1952" dy="29">Cell</tspan></text></g>
<g id="n-ptcunit" class="n o"><circle cx="2057" cy="435" r="71"/><text x="2057" y="431">Positive<tspan x="2057" dy="29">PTC unit</tspan></text></g>
<g id="n-frame" class="n o"><circle cx="2174" cy="529" r="71"/><text x="2174" y="510">Battery<tspan x="2174" dy="29">module</tspan><tspan x="2174" dy="29">frame</tspan></text></g>
<g id="n-anode" class="n o"><circle cx="1245" cy="580" r="71"/><text x="1245" y="590">Anode</text></g>
<g id="n-fb49" class="n k"><circle cx="1831" cy="599" r="71"/><text x="1831" y="609">FB49</text></g>
<g id="n-pushpull" class="n o"><circle cx="473" cy="618" r="71"/><text x="473" y="628">Push-Pull</text></g>
<g id="n-largecell" class="n o"><circle cx="772" cy="721" r="71"/><text x="772" y="702">Large<tspan x="772" dy="29">Cell</tspan><tspan x="772" dy="29">Capaci...</tspan></text></g>
<g id="n-pushtype" class="n o"><circle cx="478" cy="805" r="71"/><text x="478" y="772">Push<tspan x="478" dy="29">Type</tspan><tspan x="478" dy="29">Harness</tspan><tspan x="478" dy="29">Plugs</tspan></text></g>
<g id="n-split" class="n o"><circle cx="1604" cy="664" r="71"/><text x="1604" y="660">Split<tspan x="1604" dy="29">Layer</tspan></text></g>
<g id="n-lcp" class="n b"><circle cx="2341" cy="608" r="71"/><text x="2341" y="589">Liquid<tspan x="2341" dy="29">Cooling</tspan><tspan x="2341" dy="29">Plate</tspan></text></g>
<g id="n-valve" class="n b"><circle cx="2778" cy="645" r="71"/><text x="2778" y="655">Valve</text></g>
<g id="n-natconv" class="n b"><circle cx="2660" cy="775" r="71"/><text x="2660" y="771">Natural<tspan x="2660" dy="29">Convec...</tspan></text></g>
<g id="n-aircool" class="n b"><circle cx="2970" cy="788" r="71"/><text x="2970" y="798">Air-cool...</text></g>
<g id="n-cyl" class="n o"><circle cx="1947" cy="767" r="71"/><text x="1947" y="777">Cylindri...</text></g>
<g id="n-conduct" class="n o"><circle cx="2422" cy="794" r="71"/><text x="2422" y="804">Conduct...</text></g>
<g id="n-casing" class="n o"><circle cx="1561" cy="826" r="71"/><text x="1561" y="836">Casing</text></g>
<g id="n-square" class="n o"><circle cx="1231" cy="886" r="71"/><text x="1231" y="882">Square<tspan x="1231" dy="29">Battery</tspan></text></g>
<g id="n-liqcool" class="n b"><circle cx="2327" cy="926" r="71"/><text x="2327" y="922">Liquid<tspan x="2327" dy="29">Cooling</tspan></text></g>
<g id="n-plastic" class="n o"><circle cx="2495" cy="937" r="71"/><text x="2495" y="933">Plastic<tspan x="2495" dy="29">Plates</tspan></text></g>
<g id="n-monob" class="n o"><circle cx="3383" cy="848" r="71"/><text x="3383" y="844">Battery<tspan x="3383" dy="29">Monob...</tspan></text></g>
<g id="n-wire" class="n o"><circle cx="3966" cy="783" r="71"/><text x="3966" y="793">Wire</text></g>
<g id="n-resyel" class="n y"><circle cx="3731" cy="856" r="71"/><text x="3731" y="866">Resistan...</text></g>
<g id="n-fibre" class="n o"><circle cx="3191" cy="975" r="71"/><text x="3191" y="985">Fibrebo...</text></g>
<g id="n-cathode" class="n o"><circle cx="1609" cy="986" r="71"/><text x="1609" y="996">Cathode</text></g>
<g id="n-softpack" class="n o"><circle cx="1917" cy="972" r="71"/><text x="1917" y="953">Soft<tspan x="1917" dy="29">Pack</tspan><tspan x="1917" dy="29">Battery</tspan></text></g>
<g id="n-nut" class="n k"><circle cx="224" cy="872" r="71"/><text x="224" y="882">Nut</text></g>
<g id="n-spacer" class="n k"><circle cx="119" cy="1002" r="71"/><text x="119" y="1012">Spacer</text></g>
<g id="n-clip" class="n k"><circle cx="251" cy="1104" r="71"/><text x="251" y="1114">Clip</text></g>
<g id="n-screws" class="n k"><circle cx="105" cy="1193" r="71"/><text x="105" y="1203">Screws</text></g>
<g id="n-anchor" class="n k"><circle cx="211" cy="1326" r="71"/><text x="211" y="1322">Fixing<tspan x="211" dy="29">Anchor</tspan></text></g>
<g id="n-whp" class="n o"><circle cx="980" cy="1021" r="71"/><text x="980" y="1002">Wire<tspan x="980" dy="29">Harness</tspan><tspan x="980" dy="29">Plug</tspan></text></g>
<g id="n-fixed" class="n o"><circle cx="691" cy="1185" r="71"/><text x="691" y="1181">Fixed<tspan x="691" dy="29">Structur...</tspan></text></g>
<g id="n-lowv" class="n o"><circle cx="729" cy="1318" r="71"/><text x="729" y="1299">Low<tspan x="729" dy="29">Voltage</tspan><tspan x="729" dy="29">Harne...</tspan></text></g>
<g id="n-fasteners" class="n o"><circle cx="1072" cy="1256" r="71"/><text x="1072" y="1266">Fasteners</text></g>
<g id="n-automo" class="n g"><circle cx="1558" cy="1304" r="71"/><text x="1558" y="1314">Automo...</text></g>
<g id="n-coolunit" class="n b"><circle cx="1723" cy="1374" r="71"/><text x="1723" y="1370">Cooling<tspan x="1723" dy="29">Unit</tspan></text></g>
<g id="n-vpb" class="n g"><circle cx="1976" cy="1247" r="71"/><text x="1976" y="1228">Vehicle<tspan x="1976" dy="29">Power</tspan><tspan x="1976" dy="29">Battery</tspan></text></g>
<g id="n-ucm" class="n g"><circle cx="2535" cy="1215" r="71"/><text x="2535" y="1196">Unit<tspan x="2535" dy="29">Control</tspan><tspan x="2535" dy="29">Modul...</tspan></text></g>
<g id="n-bm" class="n o"><circle cx="2754" cy="1118" r="71"/><text x="2754" y="1114">Battery<tspan x="2754" dy="29">Module</tspan></text></g>
<g id="n-modcasing" class="n o"><circle cx="3224" cy="1161" r="71"/><text x="3224" y="1157">Module<tspan x="3224" dy="29">Casing</tspan></text></g>
<g id="n-fuse" class="n o"><circle cx="3029" cy="1242" r="71"/><text x="3029" y="1252">Fuse</text></g>
<g id="n-laser" class="n y"><circle cx="3885" cy="1013" r="71"/><text x="3885" y="1009">Laser<tspan x="3885" dy="29">Welding</tspan></text></g>
<g id="n-welding" class="n y"><circle cx="3407" cy="1229" r="71"/><text x="3407" y="1239">Welding</text></g>
<g id="n-ultra" class="n y"><circle cx="3750" cy="1231" r="71"/><text x="3750" y="1241">Ultrason...</text></g>
<g id="n-coolsys" class="n g"><circle cx="3110" cy="1391" r="71"/><text x="3110" y="1387">Cooling<tspan x="3110" dy="29">System</tspan></text></g>
<g id="n-inlet" class="n b"><circle cx="3529" cy="1404" r="71"/><text x="3529" y="1400">Coolant<tspan x="3529" dy="29">inlet and</tspan></text></g>
<g id="n-cross" class="n b"><circle cx="4142" cy="1409" r="71"/><text x="4142" y="1405">Cross<tspan x="4142" dy="29">design</tspan></text></g>
<g id="n-twosub" class="n b"><circle cx="4134" cy="1571" r="71"/><text x="4134" y="1567">Two<tspan x="4134" dy="29">sub-pip...</tspan></text></g>
<g id="n-metalenc" class="n g"><circle cx="3459" cy="1563" r="71"/><text x="3459" y="1559">Metal<tspan x="3459" dy="29">enclosu...</tspan></text></g>
<g id="n-structur" class="n k"><circle cx="3969" cy="1742" r="71"/><text x="3969" y="1752">Structur...</text></g>
<g id="n-ventil" class="n g"><circle cx="4047" cy="1890" r="71"/><text x="4047" y="1900">Ventilati...</text></g>
<g id="n-double" class="n k"><circle cx="3885" cy="1939" r="71"/><text x="3885" y="1949">Double-...</text></g>
<g id="n-insulated" class="n g"><circle cx="2265" cy="1453" r="71"/><text x="2265" y="1463">Insulated</text></g>
<g id="n-iobus" class="n o"><circle cx="2514" cy="1515" r="71"/><text x="2514" y="1525">I/O Bus</text></g>
<g id="n-output" class="n o"><circle cx="2865" cy="1504" r="71"/><text x="2865" y="1500">Output<tspan x="2865" dy="29">Contact...</tspan></text></g>
<g id="n-ties" class="n k"><circle cx="437" cy="1561" r="71"/><text x="437" y="1571">Ties</text></g>
<g id="n-hv" class="n o"><circle cx="988" cy="1472" r="71"/><text x="988" y="1453">High<tspan x="988" dy="29">Voltage</tspan><tspan x="988" dy="29">Harne...</tspan></text></g>
<g id="n-bracket" class="n o"><circle cx="1239" cy="1501" r="71"/><text x="1239" y="1511">Bracket</text></g>
<g id="n-disasse" class="n p"><circle cx="1739" cy="1555" r="71"/><text x="1739" y="1565">Disasse...</text></g>
<g id="n-bsbp" class="n g"><circle cx="1966" cy="1628" r="71"/><text x="1966" y="1609">Battery<tspan x="1966" dy="29">System</tspan><tspan x="1966" dy="29">Base P...</tspan></text></g>
<g id="n-mainfuse" class="n g"><circle cx="2200" cy="1607" r="71"/><text x="2200" y="1603">Main<tspan x="2200" dy="29">Fuse</tspan></text></g>
<g id="n-sheet" class="n o"><circle cx="2819" cy="1663" r="71"/><text x="2819" y="1659">Sheet<tspan x="2819" dy="29">units</tspan></text></g>
<g id="n-elec" class="n o"><circle cx="659" cy="1679" r="71"/><text x="659" y="1675">Electrical<tspan x="659" dy="29">compo...</tspan></text></g>
<g id="n-sensors" class="n g"><circle cx="986" cy="1744" r="71"/><text x="986" y="1754">Sensors</text></g>
<g id="n-prv" class="n o"><circle cx="1380" cy="1655" r="71"/><text x="1380" y="1651">Pressure<tspan x="1380" dy="29">Relief V...</tspan></text></g>
<g id="n-pbs" class="n g"><circle cx="2095" cy="1736" r="71"/><text x="2095" y="1732">PBS top<tspan x="2095" dy="29">cover</tspan></text></g>
<g id="n-bms" class="n g"><circle cx="2419" cy="1760" r="71"/><text x="2419" y="1756">Battery<tspan x="2419" dy="29">Manag...</tspan></text></g>
<g id="n-upper" class="n o"><circle cx="3248" cy="1750" r="71"/><text x="3248" y="1731">Upper<tspan x="3248" dy="29">frame of</tspan><tspan x="3248" dy="29">the co...</tspan></text></g>
<g id="n-acmotor" class="n u"><circle cx="124" cy="1733" r="71"/><text x="124" y="1714">AC<tspan x="124" dy="29">Motor</tspan><tspan x="124" dy="29">Trans...</tspan></text></g>
<g id="n-relay" class="n u"><circle cx="105" cy="1882" r="71"/><text x="105" y="1878">Relay<tspan x="105" dy="29">EV200</tspan></text></g>
<g id="n-sheetfuse" class="n u"><circle cx="267" cy="1928" r="71"/><text x="267" y="1924">Sheet<tspan x="267" dy="29">Fuse</tspan></text></g>
<g id="n-fastact" class="n u"><circle cx="192" cy="2082" r="71"/><text x="192" y="2063">Fast<tspan x="192" dy="29">Acting</tspan><tspan x="192" dy="29">Fuses</tspan></text></g>
<g id="n-prechar" class="n u"><circle cx="327" cy="2176" r="71"/><text x="327" y="2186">Pre-char...</text></g>
<g id="n-coolant" class="n k"><circle cx="1280" cy="1882" r="71"/><text x="1280" y="1892">Coolant</text></g>
<g id="n-canbus" class="n g"><circle cx="2627" cy="1925" r="71"/><text x="2627" y="1935">CAN Bus</text></g>
<g id="n-parallel" class="n y"><circle cx="3229" cy="2039" r="71"/><text x="3229" y="2035">Parallel<tspan x="3229" dy="29">Connec...</tspan></text></g>
<g id="n-braided" class="n k"><circle cx="3065" cy="2079" r="71"/><text x="3065" y="2060">Metal<tspan x="3065" dy="29">braided</tspan><tspan x="3065" dy="29">copper</tspan></text></g>
<g id="n-posside" class="n o"><circle cx="3723" cy="2098" r="71"/><text x="3723" y="2079">Positive<tspan x="3723" dy="29">side of</tspan><tspan x="3723" dy="29">the co...</tspan></text></g>
<g id="n-insright" class="n k"><circle cx="3567" cy="2176" r="71"/><text x="3567" y="2186">Insulati...</text></g>
<g id="n-cyltan" class="n k"><circle cx="3680" cy="2309" r="71"/><text x="3680" y="2319">Cylindri...</text></g>
<g id="n-negbot" class="n o"><circle cx="3491" cy="2368" r="71"/><text x="3491" y="2378">Negative</text></g>
<g id="n-vsens" class="n s"><circle cx="580" cy="2041" r="71"/><text x="580" y="2037">Voltage<tspan x="580" dy="29">sensors</tspan></text></g>
<g id="n-temper" class="n s"><circle cx="716" cy="2144" r="71"/><text x="716" y="2154">Temper...</text></g>
<g id="n-humid" class="n s"><circle cx="624" cy="2282" r="71"/><text x="624" y="2292">Humidity</text></g>
<g id="n-chem" class="n s"><circle cx="845" cy="2244" r="71"/><text x="845" y="2254">Chemical</text></g>
<g id="n-current" class="n s"><circle cx="764" cy="2395" r="71"/><text x="764" y="2391">Current<tspan x="764" dy="29">sensors</tspan></text></g>
<g id="n-smoke" class="n s"><circle cx="937" cy="2392" r="71"/><text x="937" y="2388">Smoke<tspan x="937" dy="29">Sensor</tspan></text></g>
<g id="n-hotair" class="n p"><circle cx="1547" cy="1949" r="71"/><text x="1547" y="1945">Hot air<tspan x="1547" dy="29">gun</tspan></text></g>
<g id="n-robot" class="n p"><circle cx="1720" cy="1993" r="71"/><text x="1720" y="2003">Robot</text></g>
<g id="n-pointed" class="n p"><circle cx="1898" cy="2003" r="71"/><text x="1898" y="1984">Pointed<tspan x="1898" dy="29">nose</tspan><tspan x="1898" dy="29">pliers</tspan></text></g>
<g id="n-degum" class="n p"><circle cx="2049" cy="2074" r="71"/><text x="2049" y="2084">Degum...</text></g>
<g id="n-electric" class="n p"><circle cx="1577" cy="2122" r="71"/><text x="1577" y="2103">Electric<tspan x="1577" dy="29">rotating</tspan><tspan x="1577" dy="29">tools</tspan></text></g>
<g id="n-cutting" class="n p"><circle cx="1793" cy="2141" r="71"/><text x="1793" y="2137">Cutting<tspan x="1793" dy="29">tools</tspan></text></g>
<g id="n-wrench" class="n p"><circle cx="1663" cy="2265" r="71"/><text x="1663" y="2275">Wrench</text></g>
<g id="n-screwdri" class="n p"><circle cx="1966" cy="2225" r="71"/><text x="1966" y="2235">Screwdri...</text></g>
<g id="n-drilling" class="n p"><circle cx="1828" cy="2309" r="71"/><text x="1828" y="2305">Drilling<tspan x="1828" dy="29">tools</tspan></text></g>
<g id="n-ethylene" class="n k"><circle cx="1134" cy="2074" r="71"/><text x="1134" y="2070">Ethylene<tspan x="1134" dy="29">Glycol</tspan></text></g>
<g id="n-water" class="n k"><circle cx="1166" cy="2287" r="71"/><text x="1166" y="2297">Water</text></g>
<g id="n-insbot" class="n k"><circle cx="1293" cy="2219" r="71"/><text x="1293" y="2229">Insulati...</text></g>
<g id="n-vsm" class="n g"><circle cx="2530" cy="2133" r="71"/><text x="2530" y="2114">Vehicle<tspan x="2530" dy="29">system</tspan><tspan x="2530" dy="29">monit...</tspan></text></g>
<g id="n-safety" class="n o"><circle cx="2919" cy="2176" r="71"/><text x="2919" y="2172">Safety<tspan x="2919" dy="29">Device</tspan></text></g>
<g id="n-plshell" class="n o"><circle cx="3137" cy="2238" r="71"/><text x="3137" y="2234">Plastic<tspan x="3137" dy="29">Shell</tspan></text></g>
<g id="n-powerbat" class="n o"><circle cx="2827" cy="2314" r="71"/><text x="2827" y="2310">Power<tspan x="2827" dy="29">Battery</tspan></text></g>
<g id="n-replace" class="n o"><circle cx="2992" cy="2330" r="71"/><text x="2992" y="2340">Replace...</text></g>
</g>
</g>
</svg>
